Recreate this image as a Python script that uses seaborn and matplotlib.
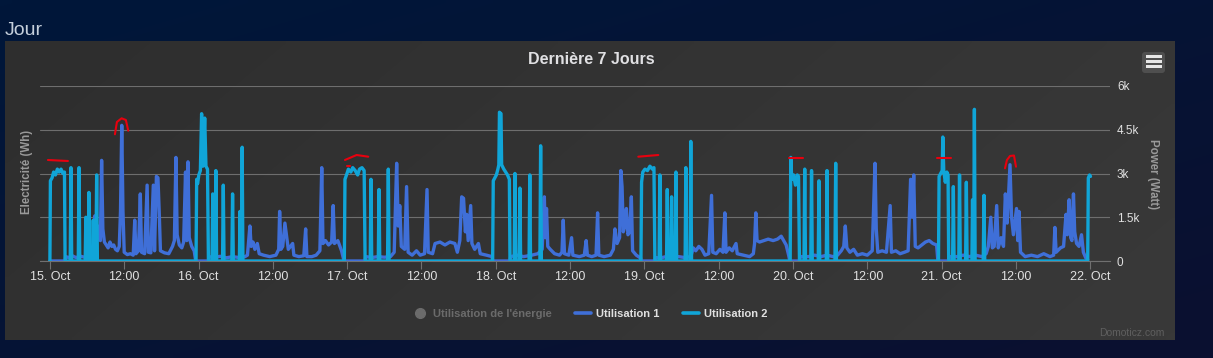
import numpy as np
import pandas as pd
import matplotlib
matplotlib.use("Agg")
import matplotlib.pyplot as plt
import seaborn as sns
from matplotlib.patches import Rectangle, FancyBboxPatch
from matplotlib.lines import Line2D
from matplotlib.colors import LinearSegmentedColormap
from matplotlib.transforms import IdentityTransform

# ---------------- data (hours since 15 Oct 00:00, watts) ----------------
start_date = "2023-10-15"
series_names = ["Utilisation 1", "Utilisation 2"]
series_colors = ["#3f6fd8", "#10a5d8"]
legend_labels = ["Utilisation de l'énergie", "Utilisation 1", "Utilisation 2"]
tick_labels = ["15. Oct", "12:00", "16. Oct", "12:00", "17. Oct", "12:00",
               "18. Oct", "12:00", "19. Oct", "12:00", "20. Oct", "12:00",
               "21. Oct", "12:00", "22. Oct"]
ytick_values = [0, 1500, 3000, 4500, 6000]
ytick_labels = ["0", "1.5k", "3k", "4.5k", "6k"]

util1_points = [
    (0.0, 0), (2.45, 0), (2.55, 150), (3.0, 120), (3.6, 180), (4.2, 120), (5.0, 160), (5.6, 130),
    (6.2, 200), (6.8, 250), (7.1, 400), (7.27, 1550), (7.4, 500), (7.7, 900), (7.95, 1200), (8.15, 700),
    (8.35, 3450), (8.55, 1100), (8.8, 650), (9.1, 550), (9.4, 450), (9.7, 650), (10.0, 500), (10.3, 550),
    (10.6, 400), (10.9, 350), (11.2, 500), (11.4, 1700), (11.6, 4650), (11.8, 1700), (12.0, 300),
    (12.5, 220), (13.0, 250), (13.45, 200), (13.7, 1400), (13.9, 250), (14.3, 350), (14.6, 2300),
    (14.8, 300), (15.3, 250), (15.7, 2600), (15.9, 300), (16.3, 280), (16.7, 2600), (16.9, 350),
    (17.2, 2900), (17.45, 2850), (17.65, 1700), (17.85, 350), (18.5, 280), (19.2, 250), (19.8, 500),
    (20.1, 700), (20.35, 3550), (20.55, 900), (20.9, 550), (21.3, 450), (21.6, 650), (21.9, 3050),
    (22.1, 700), (22.3, 3400), (22.5, 800), (22.9, 500), (23.3, 350), (23.55, 0),
    (25.6, 0), (25.7, 150), (26.5, 120), (27.5, 160), (28.5, 110), (29.5, 150), (30.5, 120), (31.5, 150),
    (31.9, 200), (32.3, 1200), (32.5, 500), (32.8, 650), (33.1, 400), (33.5, 600), (33.8, 250),
    (34.5, 200), (35.5, 150), (36.5, 200), (36.95, 400), (37.1, 1700), (37.3, 400), (37.6, 500),
    (37.95, 1300), (38.2, 900), (38.5, 400), (39.2, 600), (39.4, 200), (40.2, 150), (41.0, 180),
    (41.3, 1100), (41.5, 150), (42.3, 150), (43.0, 200), (43.6, 350), (43.9, 3200), (44.1, 600),
    (44.5, 700), (45.0, 550), (45.5, 650), (45.75, 1900), (45.95, 600), (46.5, 700), (47.1, 350),
    (47.5, 0),
    (50.9, 0), (51.0, 150), (52.0, 120), (53.0, 150), (54.0, 130), (55.0, 150), (55.6, 300),
    (56.0, 3350), (56.25, 1200), (56.5, 1900), (56.75, 500), (57.3, 400), (57.6, 2550), (57.85, 300),
    (58.5, 200), (59.2, 350), (59.8, 200), (60.5, 250), (60.9, 2450), (61.1, 300), (61.8, 250),
    (62.2, 600), (63.0, 650), (63.8, 550), (64.6, 650), (65.4, 600), (65.8, 300), (66.2, 700),
    (66.5, 2200), (66.8, 2150), (67.1, 1000), (67.3, 1600), (67.55, 700), (67.95, 1900), (68.15, 600),
    (68.6, 400), (69.2, 600), (69.5, 250), (70.5, 200), (71.4, 150), (71.5, 0),
    (74.3, 0), (74.4, 150), (75.5, 200), (76.5, 150), (77.8, 200), (78.8, 250), (79.5, 400),
    (79.85, 2200), (80.0, 800), (80.2, 1800), (80.4, 500), (80.8, 400), (81.5, 250), (82.3, 200),
    (82.7, 300), (82.9, 1400), (83.1, 250), (83.8, 200), (84.25, 800), (84.45, 200), (85.5, 150),
    (86.3, 200), (86.6, 700), (86.8, 200), (87.5, 150), (88.2, 200), (88.45, 1650), (88.65, 200),
    (89.5, 150), (90.5, 200), (91.0, 400), (91.25, 1100), (91.6, 600), (92.0, 800), (92.2, 3100),
    (92.4, 2550), (92.6, 1000), (92.85, 1200), (93.1, 1800), (93.35, 900), (93.65, 1000), (93.9, 2200),
    (94.1, 350), (94.7, 200), (95.4, 100), (95.45, 0),
    (97.7, 0), (97.8, 120), (98.5, 100), (99.5, 150), (100.5, 120), (101.5, 150), (102.5, 120),
    (103.5, 150), (103.9, 450), (104.3, 350), (104.8, 500), (105.3, 400), (105.8, 200), (106.4, 250),
    (106.85, 2250), (107.05, 300), (107.6, 250), (108.2, 400), (108.7, 300), (109.0, 1650), (109.2, 300),
    (109.7, 450), (110.2, 350), (110.8, 600), (111.0, 250), (112.0, 200), (113.0, 150), (113.6, 250),
    (113.8, 600), (114.0, 1650), (114.2, 700), (114.6, 650), (115.3, 700), (116.0, 750), (116.8, 700),
    (117.5, 750), (118.1, 850), (118.5, 700), (118.9, 550), (119.3, 200), (119.5, 0),
    (121.05, 0), (121.2, 150), (122.5, 150), (123.5, 200), (124.5, 150), (125.5, 200), (126.5, 150),
    (127.2, 200), (127.8, 350), (128.2, 500), (128.45, 1200), (128.7, 450), (129.2, 300), (129.8, 400),
    (130.4, 200), (131.2, 250), (132.0, 200), (132.8, 350), (133.25, 3350), (133.45, 1100), (133.7, 300),
    (134.4, 350), (135.1, 300), (135.7, 1900), (135.9, 300), (136.6, 350), (137.3, 250), (138.0, 300),
    (138.6, 350), (139.0, 2800), (139.25, 1500), (139.5, 2950), (139.75, 500), (140.2, 450),
    (140.8, 550), (141.4, 650), (142.0, 700), (142.6, 600), (143.2, 550), (143.4, 0),
    (145.15, 0), (145.3, 150), (146.5, 150), (147.5, 200), (148.5, 150), (149.5, 200), (150.5, 150),
    (151.2, 250), (151.55, 500), (151.95, 1500), (152.2, 450), (152.5, 500), (152.9, 1900),
    (153.15, 450), (153.6, 800), (154.0, 500), (154.3, 2300), (154.6, 1300), (155.05, 3300),
    (155.3, 1500), (155.6, 900), (156.1, 1800), (156.3, 700), (156.5, 1700), (156.75, 300),
    (157.5, 150), (158.5, 200), (159.5, 150), (160.5, 250), (161.5, 150), (162.1, 200), (162.3, 1150),
    (162.5, 300), (163.2, 450), (163.7, 500), (164.1, 1600), (164.3, 900), (164.6, 2100), (164.85, 800),
    (165.05, 700), (165.3, 2300), (165.5, 1000), (165.8, 600), (166.2, 500), (166.6, 900), (166.9, 300),
    (167.3, 100), (167.6, 50),
]

util2_points = [
    (0.0, 0), (0.08, 2750), (0.35, 2850), (0.6, 3050), (0.9, 2950), (1.2, 3150), (1.5, 3050),
    (1.8, 3150), (2.1, 3000), (2.35, 3050), (2.45, 0),
    (3.28, 0), (3.4, 3200), (3.52, 0), (4.58, 0), (4.7, 3200), (4.82, 0), (5.7, 0), (5.8, 1500),
    (5.9, 0), (6.18, 0), (6.3, 2350), (6.42, 0), (6.9, 0), (7.0, 1400), (7.1, 0), (7.43, 0),
    (7.55, 2950), (7.67, 0),
    (23.6, 0), (23.7, 2800), (23.85, 2650), (24.05, 2950), (24.3, 3100), (24.5, 5050), (24.7, 3250),
    (25.0, 4900), (25.2, 3250), (25.45, 3150), (25.6, 0),
    (26.18, 0), (26.3, 2300), (26.42, 0), (26.68, 0), (26.8, 3100), (26.92, 0), (27.88, 0),
    (28.0, 2600), (28.12, 0), (29.38, 0), (29.5, 2300), (29.62, 0), (30.6, 0), (30.7, 1700),
    (30.8, 0), (30.93, 0), (31.05, 3900), (31.17, 0),
    (47.55, 0), (47.65, 2800), (47.9, 2950), (48.2, 3150), (48.6, 3050), (48.9, 3200), (49.3, 3100),
    (49.7, 2950), (50.0, 3150), (50.4, 3200), (50.75, 3100), (50.9, 0),
    (51.73, 0), (51.85, 2800), (51.97, 0), (53.03, 0), (53.15, 2450), (53.27, 0), (54.53, 0),
    (54.65, 3150), (54.77, 0),
    (71.5, 0), (71.6, 2750), (71.85, 2850), (72.1, 2950), (72.35, 3150), (72.5, 3300), (72.6, 5100),
    (72.85, 5050), (72.95, 3300), (73.3, 3150), (73.6, 3050), (73.9, 2950), (74.2, 2800), (74.3, 0),
    (74.98, 0), (75.1, 3000), (75.22, 0), (75.78, 0), (75.9, 2500), (76.02, 0), (77.38, 0),
    (77.5, 2950), (77.62, 0), (79.13, 0), (79.25, 3950), (79.37, 0),
    (95.45, 0), (95.55, 2700), (95.75, 3050), (96.1, 3150), (96.5, 3100), (96.9, 3250), (97.3, 3150),
    (97.55, 3200), (97.7, 0),
    (98.38, 0), (98.5, 2950), (98.62, 0), (99.58, 0), (99.7, 2450), (99.82, 0), (100.28, 0),
    (100.4, 2200), (100.52, 0), (100.98, 0), (101.1, 3050), (101.22, 0), (102.58, 0), (102.7, 3200),
    (102.82, 0), (103.38, 0), (103.5, 4100), (103.62, 0),
    (119.55, 0), (119.65, 3550), (119.8, 2800), (120.1, 2950), (120.4, 2600), (120.7, 2950),
    (120.9, 2900), (121.05, 0),
    (121.78, 0), (121.9, 3150), (122.02, 0), (122.88, 0), (123.0, 3100), (123.12, 0), (124.08, 0),
    (124.2, 2750), (124.32, 0), (125.38, 0), (125.5, 3100), (125.62, 0), (126.78, 0), (126.9, 3350),
    (127.02, 0),
    (143.5, 0), (143.6, 2900), (143.85, 3000), (144.1, 3100), (144.2, 4250), (144.35, 3100),
    (144.6, 2700), (144.85, 3050), (145.05, 2950), (145.15, 0),
    (145.78, 0), (145.9, 2550), (146.02, 0), (146.78, 0), (146.9, 2950), (147.02, 0), (147.88, 0),
    (148.0, 2700), (148.12, 0), (148.9, 0), (149.0, 2100), (149.1, 0), (149.18, 0), (149.3, 5200),
    (149.42, 0), (150.73, 0), (150.85, 2250), (150.97, 0),
    (167.6, 0), (167.7, 2850), (167.9, 2950), (168.05, 2900),
]

# hand-drawn red marks visible on the screenshot (hours, watts)
red_marks = [
    [(-0.32, 3463), (2.91, 3429)],
    [(10.50, 4344), (10.82, 4766), (11.58, 4893), (12.27, 4834), (12.65, 4467)],
    [(47.65, 3463), (49.53, 3634), (51.41, 3576)],
    [(47.97, 3267), (48.45, 3267)],
    [(95.02, 3576), (98.25, 3634)],
    [(119.40, 3521), (121.57, 3521)],
    [(143.31, 3542), (145.52, 3542)],
    [(154.24, 3178), (154.56, 3463), (155.05, 3600), (155.69, 3617), (156.02, 3233)],
]

# ---------------- figure ----------------
sns.set_theme(style="dark")
plt.rcParams["font.family"] = ["Liberation Sans", "DejaVu Sans"]

W, H = 1213, 358
fig = plt.figure(figsize=(W / 100, H / 100), dpi=100)


def fx(px):
    return px / W


def fy(py):
    return 1 - py / H


# page background gradient
bg = fig.add_axes([0, 0, 1, 1])
bg.axis("off")
navy = LinearSegmentedColormap.from_list("navy", ["#00173a", "#0b1030"])
g = np.add.outer(np.linspace(0, 1, 60), np.linspace(0, 1, 200)) / 2
bg.imshow(g, cmap=navy, aspect="auto", extent=[0, 1, 0, 1], interpolation="bilinear")

# chart panel
panel = fig.add_axes([fx(5), fy(340), fx(1175) - fx(5), (340 - 41) / H])
panel.axis("off")
grey = LinearSegmentedColormap.from_list("grey", ["#2e2e2e", "#393939"])
pg = np.add.outer(np.linspace(0, 0.3, 60), np.linspace(0, 1, 200)) / 1.3
panel.imshow(pg, cmap=grey, aspect="auto", extent=[0, 1, 0, 1], interpolation="bilinear")

# plot area
ax = fig.add_axes([fx(40), fy(261), fx(1110) - fx(40), 175 / H])
ax.set_facecolor("none")

base = pd.Timestamp(start_date)
frames = []
for name, pts in zip(series_names, [util1_points, util2_points]):
    arr = np.array(pts, dtype=float)
    frames.append(pd.DataFrame({
        "time": base + pd.to_timedelta(arr[:, 0], unit="h"),
        "watts": arr[:, 1],
        "serie": name,
    }))
df = pd.concat(frames, ignore_index=True)

sns.lineplot(data=df, x="time", y="watts", hue="serie", hue_order=series_names,
             palette=series_colors, estimator=None, sort=False, linewidth=2.4,
             legend=False, ax=ax, zorder=3)

for mark in red_marks:
    m = np.array(mark, dtype=float)
    ax.plot(base + pd.to_timedelta(m[:, 0], unit="h"), m[:, 1], color="#e8000e",
            lw=1.5, solid_capstyle="round", zorder=5)

ax.set_xlim(base - pd.Timedelta(hours=1.6), base + pd.Timedelta(hours=171.2))
ax.set_ylim(0, 6000)
ax.set_xticks([base + pd.Timedelta(hours=12 * i) for i in range(len(tick_labels))])
ax.set_xticklabels(tick_labels)
ax.set_yticks(ytick_values)
ax.set_yticklabels(ytick_labels)
ax.yaxis.tick_right()
ax.set_xlabel("")
ax.set_ylabel("")
ax.set_axisbelow(True)
ax.grid(False)
ax.yaxis.grid(True, color="#6e6e6e", linewidth=0.8)
for s in ["top", "left", "right"]:
    ax.spines[s].set_visible(False)
ax.spines["bottom"].set_color("#707070")
ax.spines["bottom"].set_linewidth(0.8)
ax.tick_params(axis="x", bottom=True, length=5.5, width=0.8, color="#707070", pad=1.5,
               labelsize=9, labelcolor="#e0e0e0", direction="out")
ax.tick_params(axis="y", left=False, right=False, length=0, pad=5, labelsize=8.5,
               labelcolor="#e0e0e0")

# texts
fig.text(fx(5), fy(35), "Jour", ha="left", va="baseline", fontsize=14, color="#c5cfdb")
fig.text(fx(591), fy(60), "Dernière 7 Jours", ha="center", va="center", fontsize=11.5,
         weight="bold", color="#e0e0e3")
fig.text(fx(27), fy(172), "Electricité (Wh)", rotation=90, ha="center", va="center",
         fontsize=8.3, weight="bold", color="#9a9a9a")
fig.text(fx(1153), fy(174), "Power (Watt)", rotation=270, ha="center", va="center",
         fontsize=8.3, weight="bold", color="#9a9a9a")
fig.text(fx(1165), fy(333), "Domoticz.com", ha="right", va="center", fontsize=7.5,
         color="#5f5f5f")

# legend
handles = [
    Line2D([], [], marker="o", color="#6b6b6b", ls="none", markersize=7),
    Line2D([], [], color=series_colors[0], lw=2.6),
    Line2D([], [], color=series_colors[1], lw=2.6),
]
leg = fig.legend(handles, legend_labels, loc="center", bbox_to_anchor=(fx(590), fy(314)),
                 ncol=3, frameon=False, prop={"weight": "bold", "size": 8},
                 handlelength=1.45, handletextpad=0.45, columnspacing=2.1)
for t, c in zip(leg.get_texts(), ["#6b6b6b", "#e0e0e0", "#e0e0e0"]):
    t.set_color(c)

# menu button (pixel coordinates)
btn = FancyBboxPatch((1142, H - 73), 23, 21, boxstyle="round,pad=0,rounding_size=3",
                     facecolor="#4f4f4f", edgecolor="none", transform=IdentityTransform())
fig.add_artist(btn)
for yb in [56.5, 61.5, 66.5]:
    fig.add_artist(Rectangle((1146, H - yb - 1.3), 16, 2.6, facecolor="#e6e6e6",
                             edgecolor="none", transform=IdentityTransform()))

fig.savefig("out.png", dpi=100)
